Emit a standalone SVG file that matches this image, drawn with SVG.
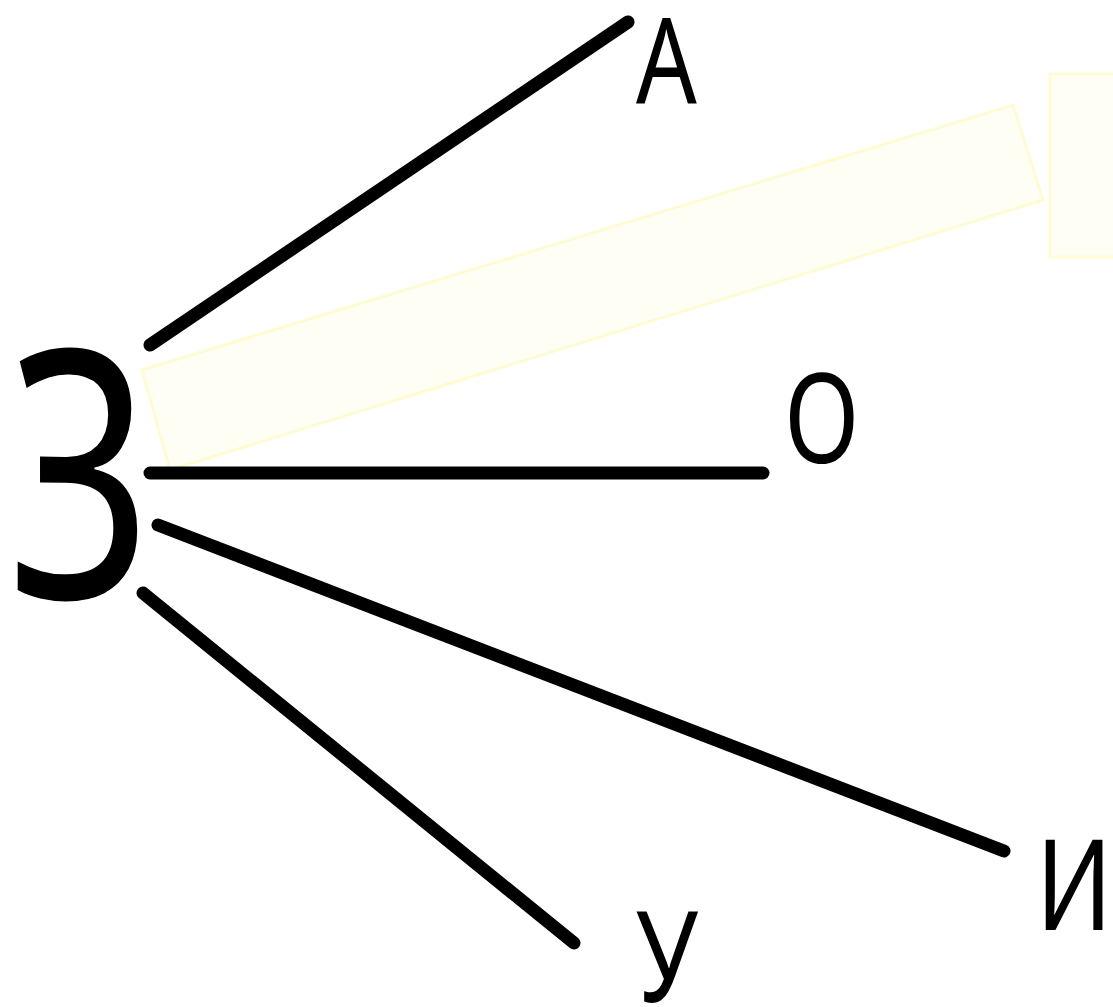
<svg xmlns="http://www.w3.org/2000/svg" width="1113" height="1007" viewBox="0 0 1113 1007">
<style>
.lbl{font-family:"Noto Sans","Open Sans","DejaVu Sans",sans-serif;fill:#000}
.ln{stroke:#000;stroke-width:13;stroke-linecap:round;fill:none}
.hl{fill:#fffef4;stroke:#fffbd2;stroke-width:3}
</style>
<rect width="1113" height="1007" fill="#fff"/>
<g id="highlights">
<polygon class="hl" points="142,370 1013,105 1043,200 170,470"/>
<rect class="hl" x="1050" y="74" width="70" height="183" stroke-width="5"/>
</g>
<g id="connectors">
<line class="ln" x1="150" y1="345" x2="628" y2="22"/>
<line class="ln" x1="150" y1="473" x2="763" y2="473"/>
<line class="ln" x1="158" y1="525" x2="1004" y2="851"/>
<line class="ln" x1="143" y1="593" x2="574" y2="943"/>
</g>
<g id="node-z"><text class="lbl" transform="translate(8,598) scale(0.72,1)" font-size="345">З</text></g>
<g id="node-a"><text class="lbl" transform="translate(636,103) scale(0.8,1)" font-size="119">А</text></g>
<g id="node-o"><text class="lbl" transform="translate(784,463) scale(0.8,1)" font-size="124">О</text></g>
<g id="node-i"><text class="lbl" transform="translate(1036,930) scale(0.8,1)" font-size="126">И</text></g>
<g id="node-u"><text class="lbl" transform="translate(636,1002) scale(0.8,1)" font-size="126">У</text></g>
</svg>
